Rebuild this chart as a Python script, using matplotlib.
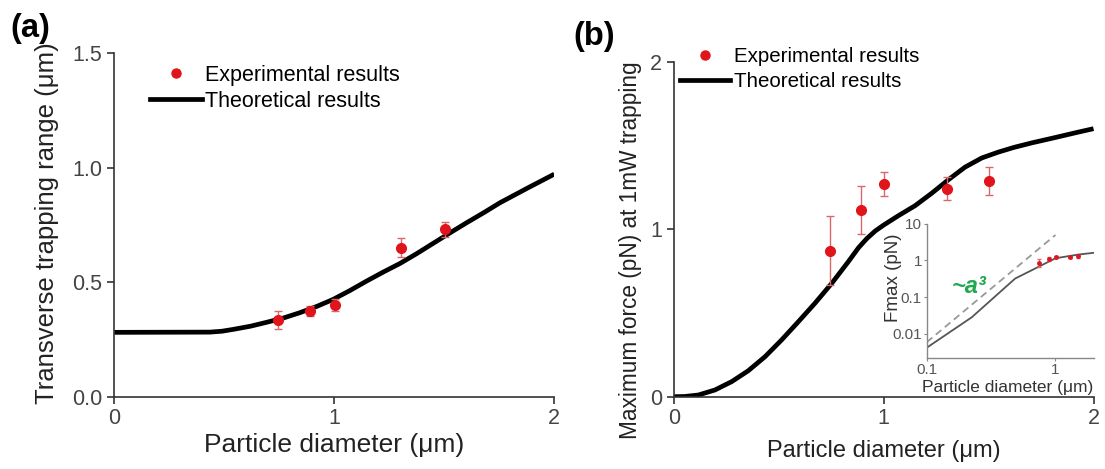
import matplotlib
matplotlib.use("Agg")
from matplotlib import pyplot as plt
from matplotlib.lines import Line2D

plt.rcParams['font.family'] = ['Liberation Sans', 'DejaVu Sans']

# measured points (same particle sizes in both panels)
d_exp = [0.743, 0.89, 1.003, 1.303, 1.503]

range_exp = [0.335, 0.374, 0.400, 0.651, 0.731]
range_err = [0.038, 0.020, 0.025, 0.040, 0.033]

force_exp = [0.872, 1.113, 1.270, 1.242, 1.288]
force_err = [0.204, 0.142, 0.070, 0.070, 0.083]

# theory curve, panel (a)
d_th_a = [0.0, 0.435, 0.49, 0.541, 0.62, 0.693, 0.77, 0.844, 0.92, 0.995, 1.07, 1.147,
          1.22, 1.299, 1.375, 1.45, 1.525, 1.602, 1.68, 1.753, 1.88, 2.0]
range_th = [0.281, 0.282, 0.286, 0.294, 0.308, 0.325, 0.344, 0.367, 0.394, 0.425, 0.463, 0.505,
            0.543, 0.582, 0.625, 0.670, 0.715, 0.760, 0.804, 0.847, 0.912, 0.972]

# theory curve, panel (b)
d_th_b = [0.0, 0.05, 0.116, 0.195, 0.275, 0.354, 0.434, 0.513, 0.593, 0.672, 0.752, 0.831,
          0.88, 0.92, 0.96, 1.0, 1.069, 1.149, 1.229, 1.308, 1.387, 1.467, 1.546, 1.62,
          1.705, 1.81, 1.912, 2.0]
force_th = [0.0, 0.001, 0.01, 0.04, 0.09, 0.155, 0.239, 0.339, 0.448, 0.558, 0.677, 0.806,
            0.89, 0.945, 0.99, 1.025, 1.08, 1.14, 1.215, 1.295, 1.37, 1.425, 1.46, 1.488,
            1.515, 1.545, 1.575, 1.600]

# log-log inset: theory, and the ~a^3 guide
d_inset = [0.1, 0.224, 0.486, 0.738, 1.0, 1.5, 1.98]
force_inset = [0.0041, 0.028, 0.32, 0.67, 1.15, 1.45, 1.62]
guide_x = [0.1, 1.0]
guide_y = [0.0058, 5.0]

red = '#e0151b'
err_col = '#d9686c'
spine_col = '#333333'
tick_col = '#444444'


def style_axes(ax, lw=1.2):
    for s in ['top', 'right']:
        ax.spines[s].set_visible(False)
    for s in ['left', 'bottom']:
        ax.spines[s].set_color(spine_col)
        ax.spines[s].set_linewidth(lw)
    ax.tick_params(direction='out', length=5, width=lw, colors=spine_col,
                   labelcolor=tick_col)


fig = plt.figure(figsize=(11.05, 4.69), dpi=100)

handles = [Line2D([], [], ls='none', marker='o', color=red, markersize=6.5),
           Line2D([], [], color='black', lw=3.4)]
labels = ['Experimental results', 'Theoretical results']

# (a) transverse trapping range
ax1 = fig.add_axes([0.1034, 0.1542, 0.3982, 0.7322])
ax1.plot(d_th_a, range_th, color='black', lw=3.4, solid_capstyle='butt',
         solid_joinstyle='round')
ax1.errorbar(d_exp, range_exp, yerr=range_err, fmt='o', color=red,
             ecolor=err_col, elinewidth=1.0, capsize=3, capthick=1.0,
             markersize=7, zorder=3)
ax1.set_xlim(0, 2)
ax1.set_ylim(0, 1.5)
ax1.set_xticks([0, 1, 2])
ax1.set_yticks([0.0, 0.5, 1.0, 1.5])
ax1.set_yticklabels(['0.0', '0.5', '1.0', '1.5'])
style_axes(ax1)
ax1.tick_params(labelsize=15.5)
ax1.set_xlabel('Particle diameter (\u03bcm)', fontsize=19, color='#222222')
ax1.set_ylabel('Transverse trapping range (\u03bcm)', fontsize=18.5, color='#222222')
ax1.xaxis.set_label_coords(0.5, -0.106)
ax1.yaxis.set_label_coords(-0.126, 0.506)
ax1.legend(handles, labels, loc='upper left', bbox_to_anchor=(0.081, 0.966),
           frameon=False, fontsize=15.5, handlelength=2.42, handletextpad=0.15,
           labelspacing=0.23, borderpad=0, borderaxespad=0)
fig.text(0.009, 0.972, '(a)', fontsize=23.5, fontweight='bold', va='top')

# (b) maximum force
ax2 = fig.add_axes([0.610, 0.1542, 0.3796, 0.7143])
ax2.plot(d_th_b, force_th, color='black', lw=3.4, solid_capstyle='butt',
         solid_joinstyle='round')
ax2.errorbar(d_exp, force_exp, yerr=force_err, fmt='o', color=red,
             ecolor=err_col, elinewidth=1.0, capsize=3, capthick=1.0,
             markersize=7, zorder=3)
ax2.set_xlim(0, 2)
ax2.set_ylim(0, 2)
ax2.set_xticks([0, 1, 2])
ax2.set_yticks([0, 1, 2])
style_axes(ax2)
ax2.tick_params(labelsize=15.5)
ax2.set_xlabel('Particle diameter (\u03bcm)', fontsize=17, color='#222222')
ax2.set_ylabel('Maximum force (pN) at 1mW trapping', fontsize=16.3, color='#222222')
ax2.xaxis.set_label_coords(0.5, -0.129)
ax2.yaxis.set_label_coords(-0.076, 0.438)
ax2.legend(handles, labels, loc='upper left', bbox_to_anchor=(0.014, 1.043),
           frameon=False, fontsize=14.8, handlelength=2.43, handletextpad=0.19,
           labelspacing=0.28, borderpad=0, borderaxespad=0)
fig.text(0.519, 0.955, '(b)', fontsize=23.5, fontweight='bold', va='top')

# inset: log-log view of the force
ax3 = fig.add_axes([0.8387, 0.236, 0.151, 0.2865])
ax3.plot(d_inset, force_inset, color='#555555', lw=1.3)
ax3.plot(guide_x, guide_y, color='#999999', lw=1.3, ls=(0, (4, 2.5)))
ax3.errorbar(d_exp, force_exp, yerr=force_err, fmt='o', color=red,
             ecolor=err_col, elinewidth=0.7, capsize=1.2, markersize=2.5, zorder=3)
ax3.set_xscale('log')
ax3.set_yscale('log')
ax3.set_xlim(0.1, 1.98)
ax3.set_ylim(0.0021, 10)
ax3.set_xticks([0.1, 1])
ax3.set_xticklabels(['0.1', '1'])
ax3.set_yticks([0.01, 0.1, 1, 10])
ax3.set_yticklabels(['0.01', '0.1', '1', '10'])
ax3.minorticks_off()
ax3.patch.set_alpha(0)
for s in ['top', 'right']:
    ax3.spines[s].set_visible(False)
for s in ['left', 'bottom']:
    ax3.spines[s].set_color('#888888')
    ax3.spines[s].set_linewidth(1.0)
ax3.tick_params(length=2, width=0.8, colors='#888888', labelcolor='#555555',
                labelsize=11, pad=1.5)
ax3.set_xlabel('Particle diameter (\u03bcm)', fontsize=12.5, color='#333333')
ax3.set_ylabel('Fmax (pN)', fontsize=13.5, color='#333333')
ax3.xaxis.set_label_coords(0.484, -0.16)
ax3.yaxis.set_label_coords(-0.148, 0.598)
ax3.text(0.155, 0.2, '~a\u00b3', fontsize=17, fontweight='bold', fontstyle='italic',
         color='#1fa84f', va='center', ha='left')

fig.savefig('out.png', dpi=100)
